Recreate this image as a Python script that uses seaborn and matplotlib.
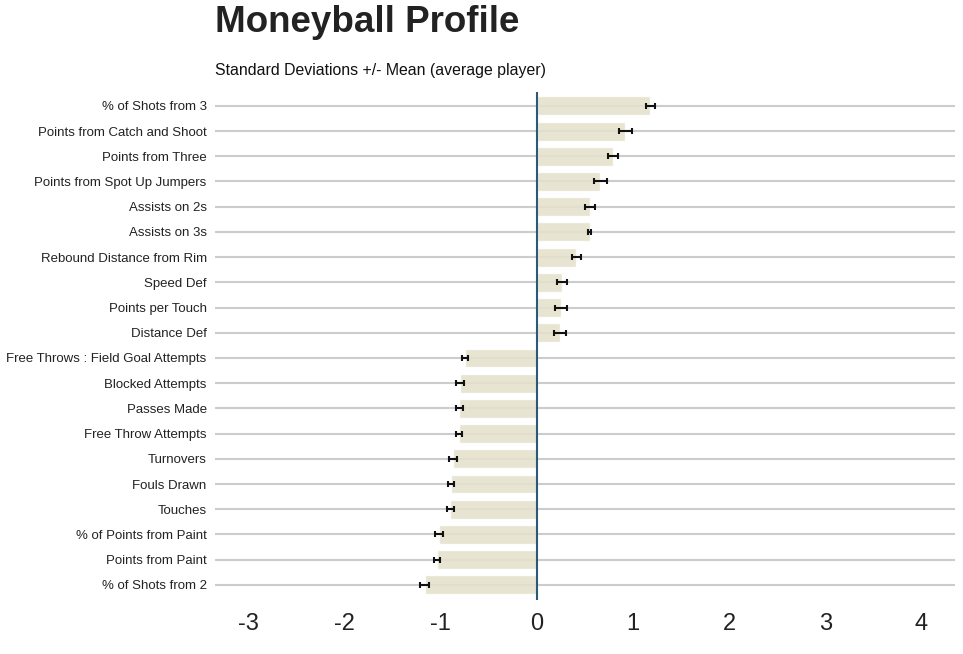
import pandas as pd
import matplotlib
matplotlib.use('Agg')
import matplotlib.pyplot as plt
import seaborn as sns

# stats, ordered top to bottom as in the chart
stats = ['% of Shots from 3', 'Points from Catch and Shoot', 'Points from Three',
         'Points from Spot Up Jumpers', 'Assists on 2s', 'Assists on 3s',
         'Rebound Distance from Rim', 'Speed Def', 'Points per Touch', 'Distance Def',
         'Free Throws : Field Goal Attempts', 'Blocked Attempts', 'Passes Made',
         'Free Throw Attempts', 'Turnovers', 'Fouls Drawn', 'Touches',
         '% of Points from Paint', 'Points from Paint', '% of Shots from 2']
z_scores = [1.18, 0.92, 0.79, 0.66, 0.55, 0.55, 0.41, 0.26, 0.25, 0.24,
            -0.75, -0.80, -0.81, -0.81, -0.875, -0.895, -0.90, -1.02, -1.04, -1.17]
errors = [0.045, 0.066, 0.05, 0.066, 0.052, 0.014, 0.049, 0.054, 0.06, 0.064,
          0.031, 0.038, 0.036, 0.03, 0.038, 0.031, 0.036, 0.042, 0.033, 0.047]
x_ticks = [-3, -2, -1, 0, 1, 2, 3, 4]

df = pd.DataFrame({'stat': stats, 'z': z_scores, 'err': errors})

sns.set_style('white')
plt.rcParams['font.family'] = ['Liberation Sans', 'DejaVu Sans']

fig = plt.figure(figsize=(9.63, 6.54), dpi=100)
ax = fig.add_axes([215 / 963, 54 / 654, 740 / 963, 508 / 654])

# horizontal grid lines at every category
for i in range(len(stats)):
    ax.axhline(i, color='#cccccc', lw=1.5, zorder=0)

sns.barplot(data=df, x='z', y='stat', orient='h', color='#e5e1cc', alpha=0.9,
            width=0.75, saturation=1, errorbar=None, ax=ax, zorder=2)
ax.errorbar(df['z'], range(len(stats)), xerr=df['err'], fmt='none',
            ecolor='#111111', elinewidth=1.5, capsize=2.5, capthick=1.5, zorder=3)
ax.axvline(0, color='#2a5a78', lw=1.5, zorder=4)

ax.set_xlim(-3.35, 4.35)
ax.set_ylim(len(stats) - 0.4, -0.55)
ax.set_xticks(x_ticks)
ax.set_xticklabels([str(t) for t in x_ticks], fontsize=17, color='#222222')
ax.tick_params(axis='y', labelsize=9.5, colors='#222222', length=0, pad=6)
ax.tick_params(axis='x', length=0, pad=9)
ax.set_xlabel('')
ax.set_ylabel('')
sns.despine(left=True, bottom=True, right=True, top=True)

fig.text(215 / 963, 1 - 23 / 654, 'Moneyball Profile', fontsize=26.5, fontweight='bold',
         color='#222222', va='center', ha='left')
fig.text(215 / 963, 1 - 70 / 654, 'Standard Deviations +/- Mean (average player)',
         fontsize=11.4, color='#111111', va='center', ha='left')

fig.savefig('out.png', dpi=100)
